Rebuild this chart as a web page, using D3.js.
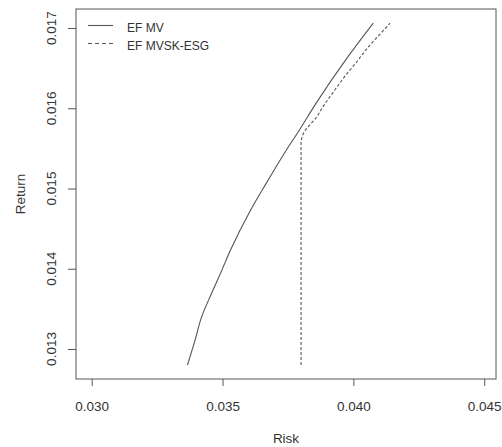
<!DOCTYPE html>
<html lang="en">
<head>
  <meta charset="UTF-8">
  <title>Efficient frontiers</title>
  <script src="https://d3js.org/d3.v7.min.js"></script>
  <style>
    body { margin: 0; background: #fff; }
    svg { display: block; font-family: "Liberation Sans", Arial, sans-serif; }
  </style>
</head>
<body>
  <svg width="502" height="447"></svg>

  <script>
    // frontier points
    const mvRisk = [0.03366, 0.03395, 0.03420, 0.03459, 0.03497, 0.03530, 0.03607,
                    0.03668, 0.03744, 0.03794, 0.03859, 0.03970, 0.04076];
    const mvReturn = [0.01280, 0.01311, 0.01340, 0.01370, 0.01398, 0.01423, 0.01473,
                      0.01507, 0.01548, 0.01573, 0.01607, 0.01660, 0.01706];
    const esgRisk = [0.03800, 0.03800, 0.03805, 0.03815, 0.03830, 0.03855, 0.03884,
                     0.03923, 0.03968, 0.04013, 0.04056, 0.04098, 0.04140];
    const esgReturn = [0.01280, 0.01557, 0.01565, 0.01572, 0.01578, 0.01587, 0.01602,
                       0.01620, 0.01640, 0.01658, 0.01676, 0.01691, 0.01706];
    const xTicks = [0.030, 0.035, 0.040, 0.045];
    const yTicks = [0.013, 0.014, 0.015, 0.016, 0.017];
    const seriesNames = ["EF MV", "EF MVSK-ESG"];

    const svg = d3.select("svg");
    const plotL = 76, plotR = 496, plotT = 9, plotB = 379;
    const axisColor = "#555", textColor = "#333";

    const x = d3.scaleLinear().domain([0.0294, 0.04545]).range([plotL, plotR]);
    const y = d3.scaleLinear().domain([0.012626, 0.017237]).range([plotB, plotT]);

    // box
    svg.append("rect")
      .attr("x", plotL).attr("y", plotT)
      .attr("width", plotR - plotL).attr("height", plotB - plotT)
      .attr("fill", "none").attr("stroke", axisColor).attr("stroke-width", 1);

    // x axis
    const xAxis = svg.append("g")
      .attr("transform", `translate(0,${plotB})`)
      .call(d3.axisBottom(x).tickValues(xTicks).tickFormat(d3.format(".3f"))
        .tickSize(7).tickPadding(15));
    xAxis.select(".domain").remove();
    xAxis.selectAll("line").attr("stroke", axisColor);
    xAxis.selectAll("text")
      .attr("font-size", "13.5px").attr("fill", textColor)
      .attr("font-family", "Liberation Sans, Arial, sans-serif");

    // y axis (labels rotated, parallel to the axis)
    const yAxis = svg.append("g")
      .attr("transform", `translate(${plotL},0)`)
      .call(d3.axisLeft(y).tickValues(yTicks).tickFormat(d3.format(".3f")).tickSize(8));
    yAxis.select(".domain").remove();
    yAxis.selectAll("line").attr("stroke", axisColor);
    yAxis.selectAll("text").remove();
    svg.selectAll(".ylab")
      .data(yTicks)
      .enter()
      .append("text")
      .attr("class", "ylab")
      .attr("transform", d => `translate(55.5,${y(d)}) rotate(-90)`)
      .attr("text-anchor", "middle")
      .attr("font-size", "13.5px")
      .attr("fill", textColor)
      .text(d3.format(".3f"));

    // axis titles
    svg.append("text")
      .attr("x", (plotL + plotR) / 2).attr("y", 443)
      .attr("text-anchor", "middle")
      .attr("font-size", "13.5px").attr("fill", textColor)
      .text("Risk");
    svg.append("text")
      .attr("transform", `translate(25,${(plotT + plotB) / 2}) rotate(-90)`)
      .attr("text-anchor", "middle")
      .attr("font-size", "13.5px").attr("fill", textColor)
      .text("Return");

    // frontier lines
    const line = d3.line().x(d => x(d[0])).y(d => y(d[1])).curve(d3.curveMonotoneY);
    const mvData = mvRisk.map((r, i) => [r, mvReturn[i]]);
    const esgData = esgRisk.map((r, i) => [r, esgReturn[i]]);

    svg.append("path")
      .datum(mvData)
      .attr("d", line)
      .attr("fill", "none").attr("stroke", "#555").attr("stroke-width", 1.1);

    svg.append("path")
      .datum(esgData)
      .attr("d", line)
      .attr("fill", "none").attr("stroke", "#555").attr("stroke-width", 1.1)
      .attr("stroke-dasharray", "3,2");

    // legend
    const legend = svg.append("g");
    seriesNames.forEach((name, i) => {
      const ly = 25.5 + i * 18;
      legend.append("line")
        .attr("x1", 88).attr("x2", 113).attr("y1", ly).attr("y2", ly)
        .attr("stroke", "#555").attr("stroke-width", 1.1)
        .attr("stroke-dasharray", i === 1 ? "4,3" : null);
      legend.append("text")
        .attr("x", 127).attr("y", ly + 6.5)
        .attr("font-size", "12px").attr("fill", textColor)
        .text(name);
    });
  </script>
</body>
</html>
